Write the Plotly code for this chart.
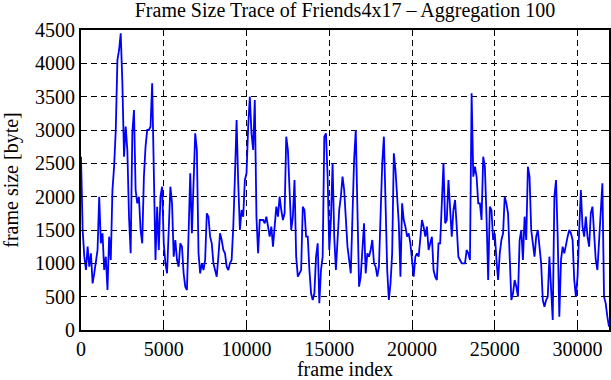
import plotly.graph_objects as go

title_text = "Frame Size Trace of Friends4x17 \u2013 Aggregation 100"
x_label = "frame index"
y_label = "frame size [byte]"
aggregation = 100

x_tick_vals = [0, 5000, 10000, 15000, 20000, 25000, 30000]
y_tick_vals = [0, 500, 1000, 1500, 2000, 2500, 3000, 3500, 4000, 4500]

# aggregated frame sizes (bytes), one value per 100 frames
sizes_a = [2600, 1500, 1100, 900, 1250, 950, 1150, 700, 850, 1000,
           1200, 2000, 1300, 1450, 900, 1100, 600, 1400, 1050, 2100,
           2450, 3000, 4050, 4200, 4450, 3700, 2600, 3050, 2700, 1700,
           1150, 2950, 3300, 2100, 1900, 2000, 1500, 1300, 2300, 2750,
           3000, 3000, 3050, 3700, 2400, 1050, 1850, 1200, 2000, 2150,
           1300, 1000, 850, 1600]
sizes_b = [2150, 1900, 1100, 1350, 1050, 950, 1300, 1250, 850, 650,
           600, 1450, 2350, 1450, 2100, 2950, 2700, 1150, 850, 1000,
           900, 1050, 1750, 1700, 1400, 1300, 1000, 900, 800, 1100,
           1450, 1350, 1200, 1150, 950, 900, 1000, 1050, 1550, 2300,
           3150, 2200, 1500, 1800, 1700, 2250, 2350, 3050, 3500, 2950,
           2700, 3450, 1700, 1150]
sizes_c = [1650, 1650, 1650, 1600, 1700, 1550, 1400, 1550, 1250, 1550,
           1850, 1700, 2000, 1800, 1650, 1750, 2900, 2700, 2050, 1500,
           1700, 2250, 1100, 800, 850, 900, 1850, 1800, 1400, 1400,
           900, 550, 450, 550, 1100, 1300, 400, 900, 1100, 2900,
           2950, 2300, 1200, 1650, 2500, 1400, 900, 1350, 1800, 2000,
           2300, 2100, 1700, 1250, 1050]
sizes_d = [850, 1700, 2550, 3000, 1800, 650, 800, 1300, 1600, 850,
           1150, 1100, 1200, 1350, 1000, 950, 800, 950, 1700, 2500,
           2900, 2050, 900, 450, 700, 1150, 2650, 2400, 1950, 1600,
           800, 1900, 1650, 1550, 1400, 1450, 1300, 1050, 800, 1100,
           1150, 1100, 1400, 1650, 1550, 1400, 1550, 1200, 1300, 1400,
           900, 800, 750, 1300]
sizes_e = [1300, 1800, 2500, 1600, 1650, 2250, 1750, 1400, 1800, 1950,
           1550, 1100, 1050, 1000, 1000, 1000, 1200, 1150, 1050, 3550,
           2300, 2450, 2300, 1900, 1900, 1650, 2600, 2450, 1700, 750,
           1850, 1800, 1350, 1450, 1050, 750, 1150, 1350, 1450, 2000,
           1900, 1750, 1100, 450, 550, 750, 650, 500, 1350, 1500,
           1050, 1700, 1350, 2450]
sizes_f = [2300, 1500, 1300, 1100, 1400, 1500, 1250, 1000, 450, 350,
           450, 500, 1100, 600, 150, 2000, 2250, 1400, 200, 1050,
           1250, 1150, 1300, 1400, 1500, 1450, 1350, 750, 500, 800,
           1500, 2100, 1550, 1400, 1700, 1400, 1250, 1750, 1850, 1500,
           1050, 900, 1350, 1900, 2200, 500, 400, 200, 50]

frame_size = sizes_a + sizes_b + sizes_c + sizes_d + sizes_e + sizes_f
frame_index = [i * aggregation for i in range(len(frame_size))]

FONT = "Liberation Serif, Times New Roman, serif"
FS = 20

fig = go.Figure()
fig.add_trace(go.Scatter(
    x=frame_index, y=frame_size, mode="lines",
    line=dict(color="#0000ff", width=1.8),
    showlegend=False, hoverinfo="skip",
))

axis_common = dict(
    showline=True, linecolor="black", linewidth=2, mirror="ticks",
    ticks="inside", ticklen=6, tickwidth=1, tickcolor="black",
    showgrid=True, gridcolor="black", gridwidth=1, griddash="6px,4px",
    zeroline=False, automargin=False,
    tickfont=dict(family=FONT, size=FS, color="black"),
)

fig.update_xaxes(
    range=[0, frame_index[-1]], tickvals=x_tick_vals,
    ticktext=[str(v) for v in x_tick_vals],
    title=dict(text=x_label, font=dict(family=FONT, size=FS, color="black"), standoff=4),
    **axis_common,
)
fig.update_yaxes(
    range=[0, 4500], tickvals=y_tick_vals,
    ticktext=[str(v) for v in y_tick_vals],
    title=dict(text=y_label, font=dict(family=FONT, size=FS, color="black"), standoff=11),
    **axis_common,
)

fig.update_layout(
    width=611, height=380,
    margin=dict(l=81, r=2, t=30, b=50),
    paper_bgcolor="white", plot_bgcolor="white",
    title=dict(text=title_text, x=0.5, xref="paper", y=1 - 10 / 380, yref="container",
               yanchor="middle", xanchor="center",
               font=dict(family=FONT, size=FS, color="black")),
    font=dict(family=FONT, color="black"),
)

fig.write_html("out.html", config={"displayModeBar": False},
               post_script="document.body.style.margin='0';")
